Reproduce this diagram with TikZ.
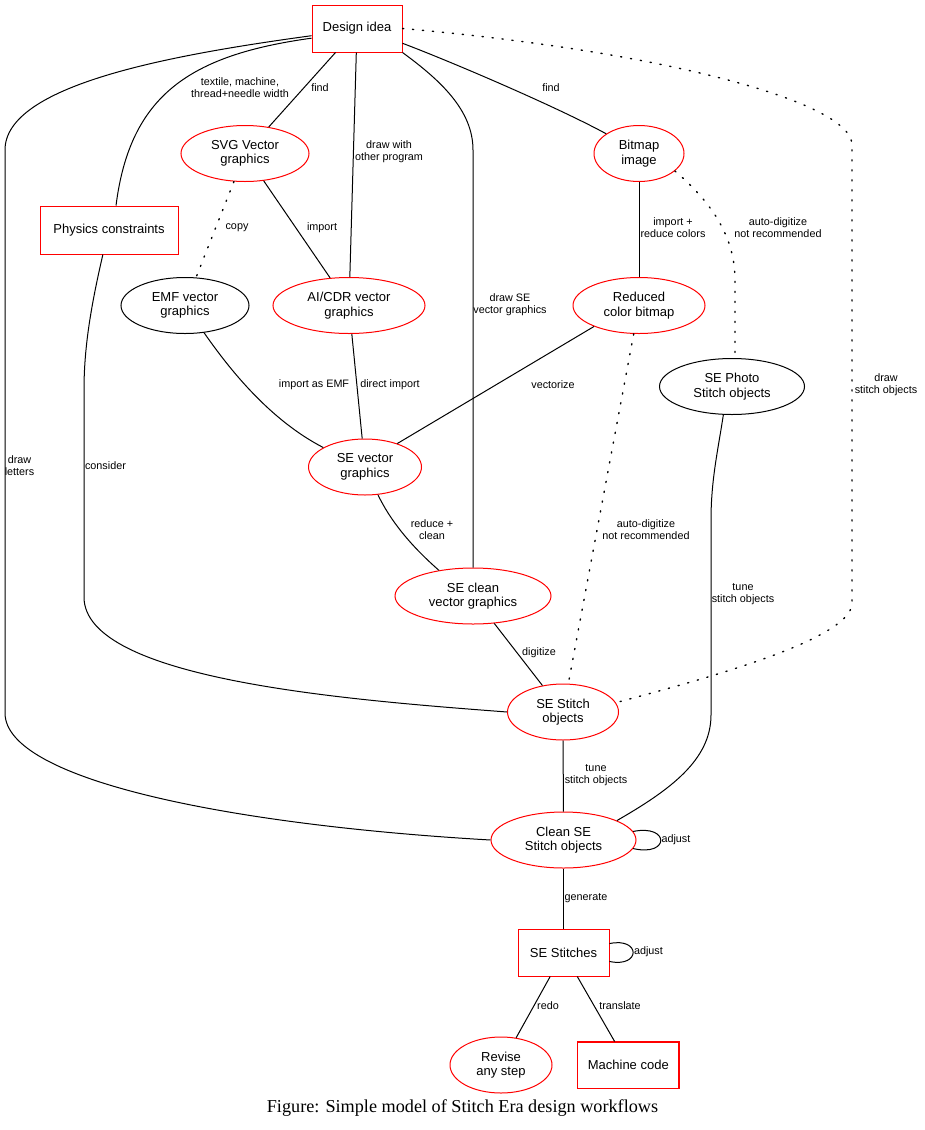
\documentclass[tikz,border=0pt]{standalone}
\usepackage{fontspec}
\setmainfont{Liberation Sans}
\newfontfamily\capfont{Liberation Serif}
\usetikzlibrary{shapes.geometric}

\begin{document}
\begin{tikzpicture}[x=1pt, y=-1pt, line width=1pt,
	boxnode/.style={draw=red, rectangle, inner sep=0pt, align=center, font=\fontsize{13}{14.5}\selectfont},
	ovalnode/.style={draw=red, ellipse, inner sep=0pt, minimum height=56pt, align=center, font=\fontsize{13}{14.5}\selectfont},
	plainoval/.style={ovalnode, draw=black},
	edgelabel/.style={inner sep=0pt, align=center, font=\fontsize{10.8}{12}\selectfont},
	dotline/.style={line width=1.4pt, dash pattern=on 1.2pt off 8.8pt, line cap=round}]
			%%%%% START %%%%%
			
			\useasboundingbox (0,0) rectangle (925,1130);
			
			\node[boxnode, minimum width=90pt, minimum height=47pt] (idea) at (357,28.5) {Design idea};
			\node[ovalnode, minimum width=128pt] (svg) at (245,153.5) {SVG Vector\\graphics};
			\node[ovalnode, minimum width=90pt] (bitmap) at (639,153.5) {Bitmap\\image};
			\node[boxnode, minimum width=138pt, minimum height=48pt] (physics) at (109,230) {Physics constraints};
			
			\node[plainoval, minimum width=128pt] (emf) at (185,305.5) {EMF vector\\graphics};
			\node[ovalnode, minimum width=152pt] (aicdr) at (349,305.5) {AI/CDR vector\\graphics};
			\node[ovalnode, minimum width=132pt] (reduced) at (639,305.5) {Reduced\\color bitmap};
			\node[plainoval, minimum width=145pt] (photo) at (732,386.5) {SE Photo\\Stitch objects};
			
			\node[ovalnode, minimum width=113pt] (sevec) at (365,467) {SE vector\\graphics};
			\node[ovalnode, minimum width=156pt] (seclean) at (473,596) {SE clean\\vector graphics};
			\node[ovalnode, minimum width=111pt] (sestitch) at (563,712) {SE Stitch\\objects};
			\node[ovalnode, minimum width=145pt] (cleanse) at (563.5,840) {Clean SE\\Stitch objects};
			
			\node[boxnode, minimum width=91pt, minimum height=47pt] (stitches) at (563.5,952.5) {SE Stitches};
			\node[ovalnode, minimum width=102pt] (revise) at (501,1065) {Revise\\any step};
			\node[boxnode, line width=1.2pt, minimum width=101.5pt, minimum height=46.5pt] (machine) at (628.3,1065.3) {Machine code};
			
			\node[font=\capfont\fontsize{18.2}{20}\selectfont] (caption) at (462.5,1108) {Figure: Simple model of Stitch Era design workflows};
			
			% from the design idea
			\draw (idea) -- (svg) node[edgelabel] (lfinda) at (320,88) {find};
			\draw (idea) -- (aicdr) node[edgelabel] (ldraw) at (389,152) {draw with\\other program};
			\draw (idea.-18) .. controls (452,62) and (557,107) .. (bitmap.149) node[edgelabel] (lfindb) at (551,88) {find};
			\draw (idea.south east) .. controls (440,80) and (473,110) .. (473,150) -- (seclean.north) node[edgelabel] (ldrawse) at (510,305) {draw SE\\vector graphics};
			\draw[dotline] (idea.east) .. controls (650,50) and (852,100) .. (852,145) -- (852,603) .. controls (852,640) and (700,680) .. (sestitch.10) node[edgelabel] (ldrawst) at (886,385) {draw\\stitch objects};
			\draw (idea.192) .. controls (190,55) and (130,95) .. (physics.74) node[edgelabel] (ltextile) at (240,88) {textile, machine,\\thread+needle width};
			\draw (idea.189) .. controls (170,55) and (5,85) .. (5,150) -- (5,713) .. controls (5,780) and (230,825) .. (cleanse.west) node[edgelabel] (lletters) at (19.5,466) {draw\\letters};
			
			% vector and bitmap sources
			\draw[dotline] (svg) -- (emf) node[edgelabel] (lcopy) at (237,228) {copy};
			\draw (svg) -- (aicdr) node[edgelabel] (limport) at (322,228) {import};
			\draw (bitmap) -- (reduced) node[edgelabel] (lreduce) at (673,228) {import +\\reduce colors};
			\draw[dotline] (bitmap.-26) .. controls (715,205) and (735,240) .. (735,280) -- (photo.84) node[edgelabel] (lautoa) at (778,228) {auto-digitize\\not recommended};
			\draw (physics.-104) .. controls (90,310) and (84,350) .. (84,390) -- (84,597) .. controls (84,680) and (350,700) .. (sestitch.west) node[edgelabel] (lconsider) at (105.5,466) {consider};
			
			\draw (emf.-55) .. controls (230,370) and (270,420) .. (sevec.155) node[edgelabel] (lemf) at (314,385) {import as EMF};
			\draw (aicdr) -- (sevec) node[edgelabel] (ldirect) at (390,385) {direct import};
			\draw (reduced.205) -- (sevec.36) node[edgelabel] (lvector) at (553,385) {vectorize};
			\draw[dotline] (reduced) -- (sestitch) node[edgelabel] (lautob) at (646,530) {auto-digitize\\not recommended};
			
			% towards the stitches
			\draw (sevec.-65) .. controls (390,520) and (410,545) .. (seclean.143) node[edgelabel] (lclean) at (432,530) {reduce +\\clean};
			\draw (photo.-107) .. controls (718,450) and (711,480) .. (711,520) -- (711,715) .. controls (711,760) and (670,790) .. (cleanse.20) node[edgelabel] (ltunea) at (743,594) {tune\\stitch objects};
			\draw (seclean) -- (sestitch) node[edgelabel] (ldigit) at (539,653) {digitize};
			\draw (sestitch) -- (cleanse) node[edgelabel] (ltuneb) at (596,775) {tune\\stitch objects};
			\draw (cleanse.7) .. controls (670,824) and (670,857) .. (cleanse.-7) node[edgelabel, anchor=west] (ladjusta) at (661,840) {adjust};
			
			\draw (cleanse) -- (stitches) node[edgelabel] (lgen) at (586,898) {generate};
			\draw (stitches.11) .. controls (641,937) and (641,968) .. (stitches.-11) node[edgelabel, anchor=west] (ladjustb) at (633.5,952) {adjust};
			\draw (stitches) -- (revise) node[edgelabel] (lredo) at (548,1006) {redo};
			\draw (stitches) -- (machine) node[edgelabel] (ltrans) at (620,1006) {translate};
			
			%%%%% END %%%%%
\end{tikzpicture}
\end{document}
